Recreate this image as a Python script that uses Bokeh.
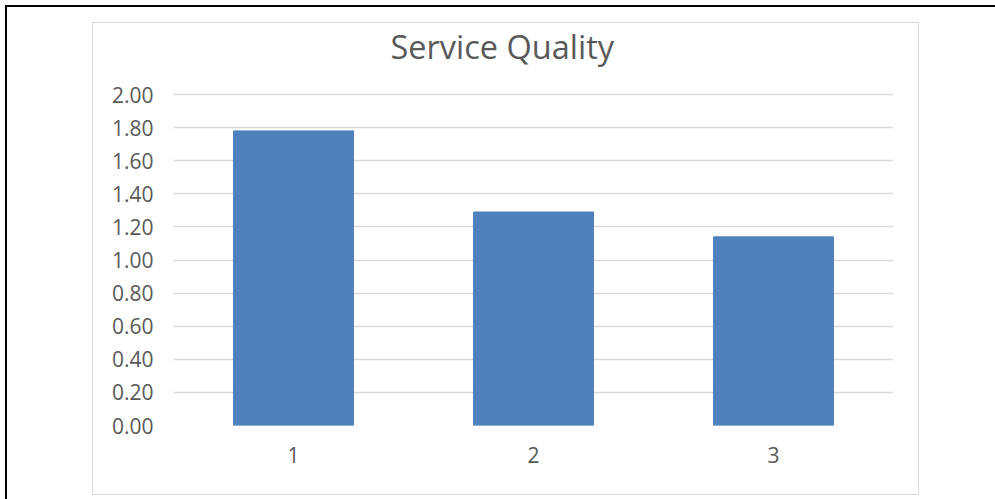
from bokeh.plotting import figure
from bokeh.models import (FactorRange, Range1d, FixedTicker, NumeralTickFormatter,
                          ColumnDataSource, InlineStyleSheet)
from bokeh.embed import file_html
from bokeh.resources import INLINE

# Chart data
categories = ["1", "2", "3"]
scores = [1.78, 1.29, 1.14]
y_ticks = [0.0, 0.2, 0.4, 0.6, 0.8, 1.0, 1.2, 1.4, 1.6, 1.8, 2.0]
title_text = "Service Quality"

W, H = 995, 499
FRAME_LEFT, FRAME_RIGHT, FRAME_TOP, FRAME_BOTTOM = 173, 893, 92, 425
Y_MAX = 2.0
PX_PER_UNIT = 165.5
TEXT_GRAY = "#595959"
GRID_GRAY = "#d9d9d9"
BAR_BLUE = "#4f81bd"
FONT = "Open Sans"

# leave a couple of pixels above the top gridline so it is not clipped
y_end = Y_MAX + (FRAME_BOTTOM - FRAME_TOP - Y_MAX * PX_PER_UNIT) / PX_PER_UNIT

p = figure(
    width=W, height=H,
    x_range=FactorRange(*categories, range_padding=0),
    y_range=Range1d(0, y_end),
    output_backend="svg", toolbar_location=None,
    min_border_left=FRAME_LEFT, min_border_right=W - FRAME_RIGHT,
    min_border_top=FRAME_TOP, min_border_bottom=H - FRAME_BOTTOM,
)
p.outline_line_color = None
p.background_fill_color = "white"
p.border_fill_color = "white"

src = ColumnDataSource(dict(cat=categories, val=scores))
p.vbar(x="cat", top="val", width=0.5, source=src,
       fill_color=BAR_BLUE, line_color=BAR_BLUE)

# y axis: numeric ticks with two decimals, no lines
p.yaxis.ticker = FixedTicker(ticks=y_ticks)
p.yaxis.formatter = NumeralTickFormatter(format="0.00")
p.yaxis.axis_line_color = None
p.yaxis.major_tick_line_color = None
p.yaxis.minor_tick_line_color = None
p.yaxis.major_label_standoff = 14
p.yaxis.major_label_text_font = FONT
p.yaxis.major_label_text_font_size = "21px"
p.yaxis.major_label_text_color = TEXT_GRAY

p.xaxis.axis_line_color = None
p.xaxis.major_tick_line_color = None
p.xaxis.minor_tick_line_color = None
p.xaxis.major_label_standoff = 15
p.xaxis.major_label_text_font = FONT
p.xaxis.major_label_text_font_size = "21px"
p.xaxis.major_label_text_color = TEXT_GRAY

p.xgrid.grid_line_color = None
p.ygrid.grid_line_color = GRID_GRAY
p.ygrid.grid_line_width = 1.5
p.ygrid.ticker = FixedTicker(ticks=y_ticks)

# chart title
p.title.text = title_text
p.title.align = "left"
p.title.vertical_align = "top"
p.title.offset = 217
p.title.standoff = 44
p.title.text_font = FONT
p.title.text_font_size = "32.5px"
p.title.text_font_style = "normal"
p.title.text_color = TEXT_GRAY

# chart box and page edge lines drawn as host decorations
p.stylesheets = [InlineStyleSheet(css="""
:host { position: relative; }
:host::before {
  content: ""; position: absolute; pointer-events: none; z-index: 10;
  left: 92px; top: 22px; width: 825px; height: 471px;
  border: 1px solid #d9d9d9;
}
:host::after {
  content: ""; position: absolute; pointer-events: none; z-index: 11;
  left: 5px; top: 5px; right: 0px; bottom: 0px;
  border-top: 2px solid #000000; border-left: 2px solid #000000;
}
""")]

open("out.html", "w").write(file_html(p, INLINE))
